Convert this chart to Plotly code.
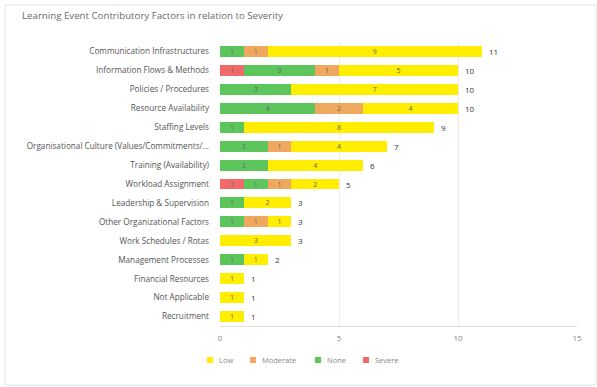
import plotly.graph_objects as go

title = "Learning Event Contributory Factors in relation to Severity"
categories = [
    "Communication Infrastructures",
    "Information Flows & Methods",
    "Policies / Procedures",
    "Resource Availability",
    "Staffing Levels",
    "Organisational Culture (Values/Commitments/...",
    "Training (Availability)",
    "Workload Assignment",
    "Leadership & Supervision",
    "Other Organizational Factors",
    "Work Schedules / Rotas",
    "Management Processes",
    "Financial Resources",
    "Not Applicable",
    "Recruitment",
]
severe = [0, 1, 0, 0, 0, 0, 0, 1, 0, 0, 0, 0, 0, 0, 0]
none_ = [1, 3, 3, 4, 1, 2, 2, 1, 1, 1, 0, 1, 0, 0, 0]
moderate = [1, 1, 0, 2, 0, 1, 0, 1, 0, 1, 0, 0, 0, 0, 0]
low = [9, 5, 7, 4, 8, 4, 4, 2, 2, 1, 3, 1, 1, 1, 1]
x_ticks = [0, 5, 10, 15]

# stacking order (left to right)
series = [
    ("Severe", severe, "#f06a6a"),
    ("None", none_, "#5cc55c"),
    ("Moderate", moderate, "#f0a85e"),
    ("Low", low, "#ffee00"),
]
legend_order = ["Low", "Moderate", "None", "Severe"]

fig = go.Figure()
for name, vals, color in series:
    fig.add_trace(go.Bar(
        y=categories,
        x=[v if v else None for v in vals],
        name=name,
        orientation="h",
        marker=dict(color=color, line=dict(width=0)),
        text=[str(v) if v else "" for v in vals],
        textposition="inside",
        insidetextanchor="middle",
        textangle=0,
        constraintext="none",
        textfont=dict(size=7, color="#666666"),
        showlegend=False,
        hoverinfo="skip",
    ))

totals = [a + b + c + d for a, b, c, d in zip(severe, none_, moderate, low)]
for cat, t in zip(categories, totals):
    fig.add_annotation(x=t, y=cat, text=str(t), showarrow=False,
                       xanchor="left", xshift=5,
                       font=dict(size=8, color="#333333", family="Open Sans"))

W, H = 597, 387
ml, mr, mt, mb = 220, 20, 42, 61
pw, ph = W - ml - mr, H - mt - mb
def px(x):
    return (x - ml) / pw
def py(y):
    return 1 - (y - mt) / ph

fig.add_shape(type="rect", xref="paper", yref="paper",
              x0=px(5), x1=px(596), y0=py(5), y1=py(385),
              line=dict(color="#e2e2e2", width=1), fillcolor="rgba(0,0,0,0)",
              layer="below")

# custom legend
colors = {n: c for n, _, c in series}
legend_x = [207, 250, 315, 363]
ly = 360
for name, lx in zip(legend_order, legend_x):
    fig.add_shape(type="rect", xref="paper", yref="paper",
                  x0=px(lx), x1=px(lx + 6), y0=py(ly + 3), y1=py(ly - 3),
                  line=dict(width=0), fillcolor=colors[name])
    fig.add_annotation(xref="paper", yref="paper", x=px(lx + 10), y=py(ly),
                       text=name, showarrow=False, xanchor="left", yanchor="middle",
                       font=dict(size=7.5, color="#888888", family="Open Sans"))

fig.update_layout(
    width=W, height=H,
    margin=dict(l=ml, r=mr, t=mt, b=mb),
    barmode="stack",
    bargap=0.42,
    paper_bgcolor="white",
    plot_bgcolor="white",
    font=dict(family="Open Sans", size=8, color="#555555"),
    title=dict(text=title, x=22 / W, xanchor="left", y=1 - 16 / H, yanchor="middle",
               font=dict(size=9.7, color="#6a6a6a", family="Open Sans")),
    xaxis=dict(range=[0, 15], tickvals=x_ticks, showgrid=True, gridcolor="#ececec",
               gridwidth=1, zeroline=False, showline=True, linecolor="#e0e0e0",
               ticks="", ticklabelstandoff=4,
               tickfont=dict(size=8, color="#888888"), fixedrange=True),
    yaxis=dict(autorange="reversed", showgrid=False, ticks="", ticklen=0,
               ticklabelstandoff=10,
               tickfont=dict(size=8.2, color="#555555"), automargin=False),
    showlegend=False,
)

fig.write_html("out.html")
